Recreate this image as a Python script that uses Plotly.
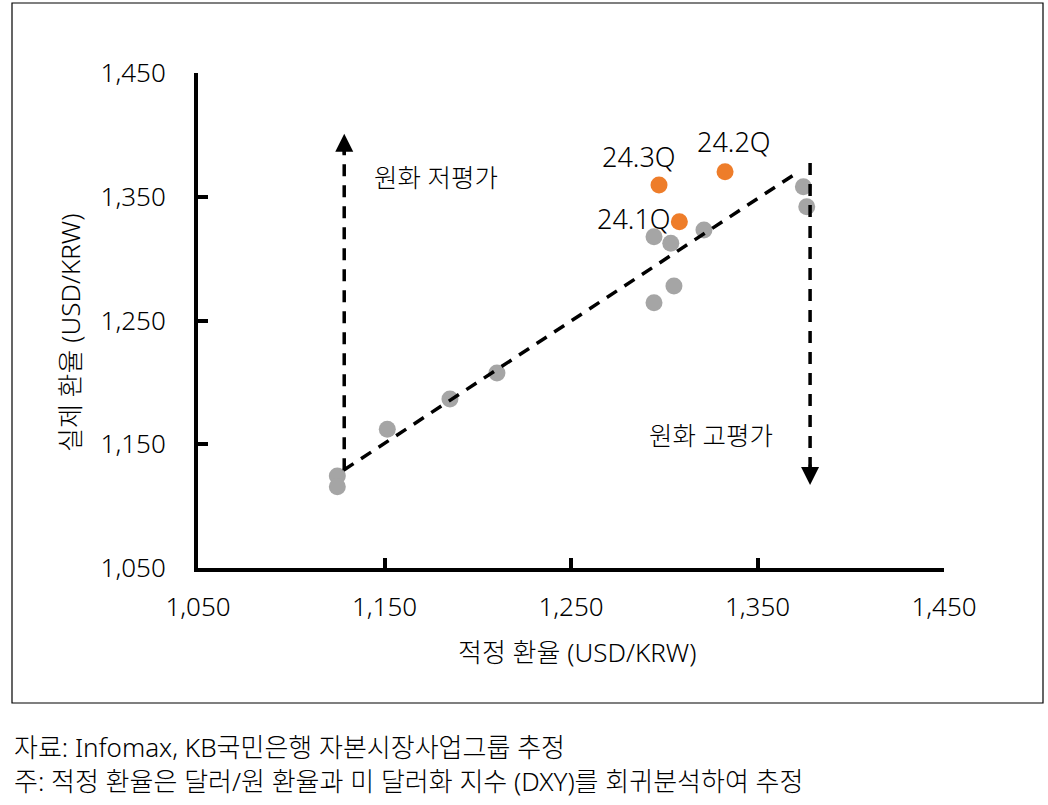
import plotly.graph_objects as go

# ---- data ----
gray_x = [1124.7, 1124.7, 1151.5, 1185.1, 1210.3, 1294.5, 1305.2, 1294.5, 1303.5, 1321.3, 1374.6, 1376.4]
gray_y = [1124.3, 1115.7, 1162.1, 1186.6, 1207.6, 1264.4, 1277.9, 1317.7, 1312.4, 1323.1, 1358.1, 1342.0]
orange_labels = ["24.3Q", "24.2Q", "24.1Q"]
orange_x = [1297.2, 1332.6, 1308.1]
orange_y = [1359.5, 1370.2, 1329.8]
label_shift_x = [-20, 9, -45]
label_shift_y = [28, 30, 3]

trend_x = [1128.0, 1372.0]
trend_y = [1129.0, 1370.2]
up_arrow_x = [1128.4, 1128.4]
up_arrow_y = [1129.0, 1392.0]
up_tip = (1128.4, 1401.0)
down_arrow_x = [1378.2, 1378.2]
down_arrow_y = [1377.3, 1126.0]
down_tip = (1378.2, 1117.0)

tick_vals = [1050, 1150, 1250, 1350, 1450]
tick_text = ["1,050", "1,150", "1,250", "1,350", "1,450"]

FONT = "Noto Sans, Noto Sans CJK KR, sans-serif"
W = 300
GRAY = "#A5A5A5"
ORANGE = "#EE7D2A"

fig = go.Figure()
fig.add_trace(go.Scatter(x=gray_x, y=gray_y, mode="markers",
                         marker=dict(size=17, color=GRAY), hoverinfo="skip", showlegend=False))
fig.add_trace(go.Scatter(x=orange_x, y=orange_y, mode="markers",
                         marker=dict(size=17, color=ORANGE), hoverinfo="skip", showlegend=False))
dash = dict(color="black", width=3.5, dash="12px,9px")
for xs, ys in [(trend_x, trend_y), (up_arrow_x, up_arrow_y), (down_arrow_x, down_arrow_y)]:
    fig.add_trace(go.Scatter(x=xs, y=ys, mode="lines", line=dash, hoverinfo="skip", showlegend=False))


def f(size):
    return dict(family=FONT, size=size, color="black", weight=W)


ann = []
for lab, x, y, sx, sy in zip(orange_labels, orange_x, orange_y, label_shift_x, label_shift_y):
    ann.append(dict(x=x, y=y, text=lab, showarrow=False, xshift=sx, yshift=sy, font=f(27)))
ann.append(dict(x=up_tip[0], y=up_tip[1], ax=0, ay=22, showarrow=True, arrowhead=2,
                arrowsize=1.2, arrowwidth=3, arrowcolor="black", text=""))
ann.append(dict(x=down_tip[0], y=down_tip[1], ax=0, ay=-22, showarrow=True, arrowhead=2,
                arrowsize=1.2, arrowwidth=3, arrowcolor="black", text=""))
ann.append(dict(x=1177.6, y=1366, text="원화 저평가", showarrow=False, font=f(25.5)))
ann.append(dict(x=1325.1, y=1157.5, text="원화 고평가", showarrow=False, font=f(25.5)))
# axis titles
ann.append(dict(xref="paper", yref="paper", x=(577 - 198) / 746, y=(568 - 652) / 495,
                xanchor="center", yanchor="middle",
                text="적정 환율 (USD/KRW)", showarrow=False, font=f(26)))
ann.append(dict(xref="paper", yref="paper", x=(70 - 198) / 746, y=(568 - 333) / 495,
                xanchor="center", yanchor="middle", textangle=-90,
                text="실제 환율 (USD/KRW)", showarrow=False, font=f(26)))
# footnotes
ann.append(dict(xref="paper", yref="paper", x=(12 - 198) / 746, y=(568 - 747) / 495,
                xanchor="left", yanchor="middle",
                text="자료: Infomax, KB국민은행 자본시장사업그룹 추정", showarrow=False, font=f(26)))
ann.append(dict(xref="paper", yref="paper", x=(12 - 198) / 746, y=(568 - 781) / 495,
                xanchor="left", yanchor="middle",
                text="주: 적정 환율은 달러/원 환율과 미 달러화 지수 (DXY)를 회귀분석하여 추정",
                showarrow=False, font=f(26)))

axis_common = dict(range=[1050, 1450], tickvals=tick_vals, ticktext=tick_text,
                   showline=True, linecolor="black", linewidth=4,
                   ticks="inside", ticklen=10, tickwidth=4, tickcolor="black",
                   showgrid=False, zeroline=False, tickfont=f(26))

fig.update_layout(
    width=1048, height=805,
    margin=dict(l=198, r=104, t=73, b=237),
    paper_bgcolor="white", plot_bgcolor="white",
    xaxis=dict(**axis_common, ticklabelstandoff=13),
    yaxis=dict(**axis_common, ticklabelstandoff=23),
    annotations=ann,
    shapes=[dict(type="rect", xref="paper", yref="paper",
                 x0=(12 - 198) / 746, x1=(1043 - 198) / 746,
                 y0=(568 - 703) / 495, y1=(568 - 3) / 495,
                 line=dict(color="black", width=1.2), layer="below")],
)

fig.write_html("out.html")
